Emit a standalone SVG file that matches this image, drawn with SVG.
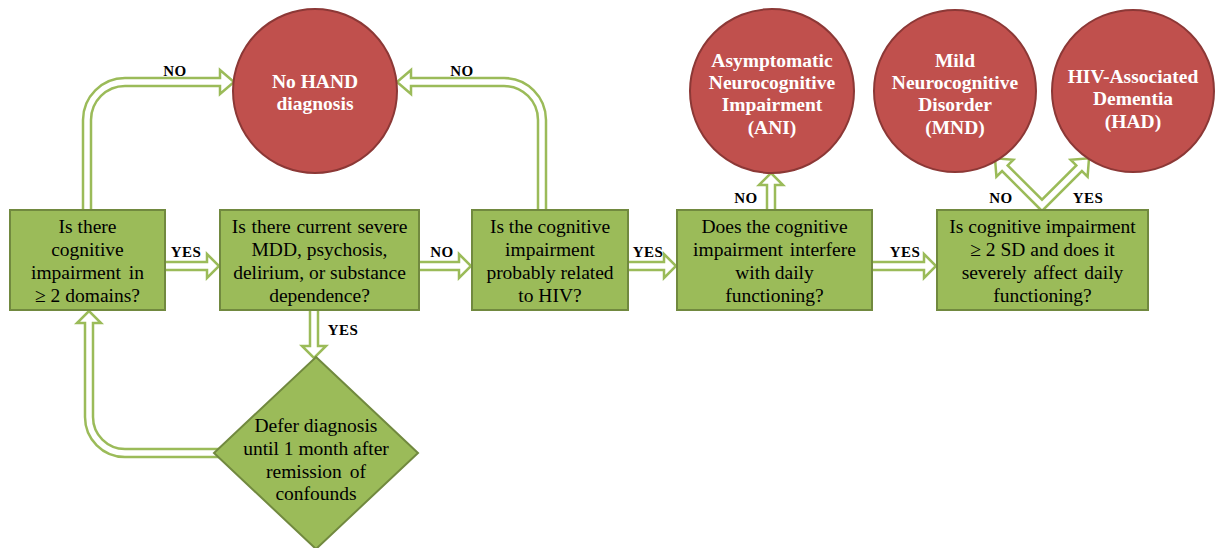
<svg xmlns="http://www.w3.org/2000/svg" width="1215" height="548" viewBox="0 0 1215 548">
<style>
.box{fill:#9BBB59;stroke:#71893F;stroke-width:2}
.circ{fill:#C0504D;stroke:#8C3836;stroke-width:2}
.arr{fill:#FFFFFF;stroke:#9BBB59;stroke-width:2.5;stroke-linejoin:miter}
text{font-family:'Liberation Serif','Times New Roman',serif}
.t{font-size:19.5px;fill:#000;text-anchor:middle}
.ct{font-size:19.5px;font-weight:bold;fill:#FFF;text-anchor:middle}
.lb{font-size:15px;font-weight:bold;fill:#000;text-anchor:middle;letter-spacing:0.5px}
</style>
<rect width="1215" height="548" fill="#FFFFFF"/>
<g id="connectors">
  <path class="arr" d="M83,211 L83,120 A42,42 0 0 1 125,78 L220,78 L220,70 L234,82 L220,94 L220,86 L125,86 A34,34 0 0 0 91,120 L91,211 Z"/>
  <path class="arr" d="M546,211 L546,120 A42,42 0 0 0 504,78 L411,78 L411,70 L397,82 L411,94 L411,86 L504,86 A34,34 0 0 1 538,120 L538,211 Z"/>
  <polygon class="arr" points="164,262 207,262 207,254 219,266 207,278 207,270 164,270"/>
  <polygon class="arr" points="418,262 459,262 459,254 471,266 459,278 459,270 418,270"/>
  <polygon class="arr" points="627,262 664,262 664,254 676,266 664,278 664,270 627,270"/>
  <polygon class="arr" points="871,262 924,262 924,254 936,266 924,278 924,270 871,270"/>
  <polygon class="arr" points="767,211 767,185 759,185 771,173 783,185 775,185 775,211"/>
  <polygon class="arr" points="310,309 310,346 302,346 314,358 326,346 318,346 318,309"/>
  <path class="arr" d="M219,449 L125,449 A32,32 0 0 1 93,417 L93,323 L101,323 L89,311 L77,323 L85,323 L85,417 A40,40 0 0 0 125,457 L219,457 Z"/>
  <polygon class="arr" points="1042,211 1002.1,171 996.4,176.7 995,158.3 1013.4,159.7 1007.7,165.4 1042,199.7 1076.3,165.4 1070.6,159.7 1089,158.3 1087.6,176.7 1081.9,171"/>
  <text class="lb" x="175" y="76">NO</text>
  <text class="lb" x="462" y="76">NO</text>
  <text class="lb" x="186" y="257">YES</text>
  <text class="lb" x="442" y="257">NO</text>
  <text class="lb" x="648" y="257">YES</text>
  <text class="lb" x="905" y="257">YES</text>
  <text class="lb" x="746" y="203">NO</text>
  <text class="lb" x="1001" y="203">NO</text>
  <text class="lb" x="1088" y="203">YES</text>
  <text class="lb" x="343" y="335">YES</text>
</g>
<g id="node-nohand">
  <circle class="circ" cx="315" cy="91" r="82"/>
  <text class="ct" x="315" y="88">No HAND</text>
  <text class="ct" x="315" y="110">diagnosis</text>
</g>
<g id="node-ani">
  <circle class="circ" cx="772" cy="91" r="82"/>
  <text class="ct" x="772" y="67">Asymptomatic</text>
  <text class="ct" x="772" y="89">Neurocognitive</text>
  <text class="ct" x="772" y="111">Impairment</text>
  <text class="ct" x="772" y="134">(ANI)</text>
</g>
<g id="node-mnd">
  <circle class="circ" cx="955" cy="91" r="81"/>
  <text class="ct" x="955" y="67">Mild</text>
  <text class="ct" x="955" y="89">Neurocognitive</text>
  <text class="ct" x="955" y="111">Disorder</text>
  <text class="ct" x="955" y="134">(MND)</text>
</g>
<g id="node-had">
  <circle class="circ" cx="1133" cy="91" r="81"/>
  <text class="ct" x="1133" y="83">HIV-Associated</text>
  <text class="ct" x="1133" y="105">Dementia</text>
  <text class="ct" x="1133" y="128">(HAD)</text>
</g>
<g id="node-q1">
  <rect class="box" x="10" y="210" width="155" height="100"/>
  <text class="t" x="87.5" y="233">Is there</text>
  <text class="t" x="87.5" y="256">cognitive</text>
  <text class="t" x="87.5" y="279" word-spacing="3">impairment in</text>
  <text class="t" x="87.5" y="302">≥ 2 domains?</text>
</g>
<g id="node-q2">
  <rect class="box" x="220" y="210" width="199" height="100"/>
  <text class="t" x="319.5" y="233" word-spacing="1">Is there current severe</text>
  <text class="t" x="319.5" y="256">MDD, psychosis,</text>
  <text class="t" x="319.5" y="279">delirium, or substance</text>
  <text class="t" x="319.5" y="302">dependence?</text>
</g>
<g id="node-q3">
  <rect class="box" x="472" y="210" width="156" height="100"/>
  <text class="t" x="550" y="233">Is the cognitive</text>
  <text class="t" x="550" y="256">impairment</text>
  <text class="t" x="550" y="279">probably related</text>
  <text class="t" x="550" y="302">to HIV?</text>
</g>
<g id="node-q4">
  <rect class="box" x="677" y="210" width="195" height="100"/>
  <text class="t" x="774.5" y="233">Does the cognitive</text>
  <text class="t" x="774.5" y="256" word-spacing="2">impairment interfere</text>
  <text class="t" x="774.5" y="279">with daily</text>
  <text class="t" x="774.5" y="302">functioning?</text>
</g>
<g id="node-q5">
  <rect class="box" x="937" y="210" width="211" height="100"/>
  <text class="t" x="1042.5" y="233">Is cognitive impairment</text>
  <text class="t" x="1042.5" y="256">≥ 2 SD and does it</text>
  <text class="t" x="1042.5" y="279" word-spacing="2">severely affect daily</text>
  <text class="t" x="1042.5" y="302">functioning?</text>
</g>
<g id="node-defer">
  <polygon class="box" points="316,357 418,453 316,549 214,453"/>
  <text class="t" x="316" y="432">Defer diagnosis</text>
  <text class="t" x="316" y="455">until 1 month after</text>
  <text class="t" x="316" y="478" word-spacing="3">remission of</text>
  <text class="t" x="316" y="500">confounds</text>
</g>
</svg>
